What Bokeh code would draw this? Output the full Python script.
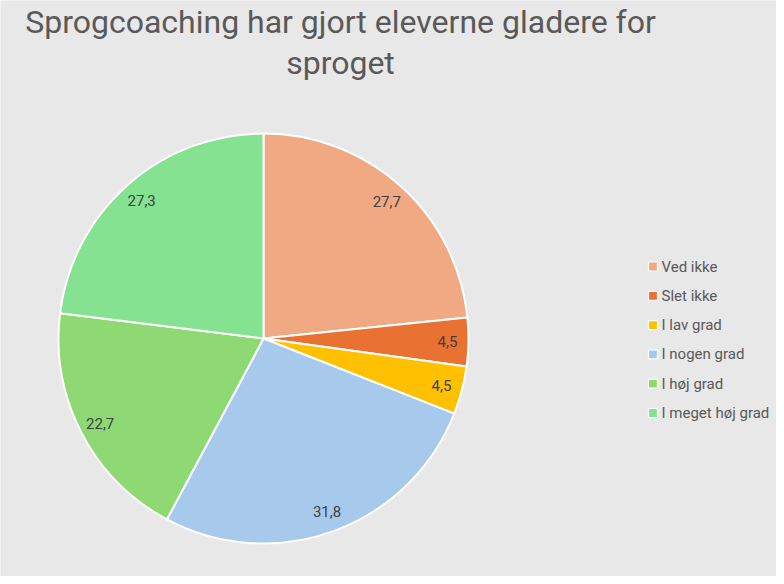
import math
from bokeh.plotting import figure
from bokeh.models import ColumnDataSource, Range1d
from bokeh.core.properties import value
from bokeh.embed import file_html
from bokeh.resources import INLINE

title_lines = ["Sprogcoaching har gjort eleverne gladere for", "sproget"]
categories = ["Ved ikke", "Slet ikke", "I lav grad", "I nogen grad", "I høj grad", "I meget høj grad"]
values = [27.7, 4.5, 4.5, 31.8, 22.7, 27.3]
colors = ["#F1A983", "#E97132", "#FFC000", "#A6C9EC", "#8ED973", "#84E291"]

W, H = 776, 576
cx, cy, R = 263, 238, 205
label_r = 184

total = sum(values)
starts, ends, lx, ly, labels = [], [], [], [], []
cum = 0.0
for v in values:
    a0 = math.pi / 2 - 2 * math.pi * cum / total
    cum += v
    a1 = math.pi / 2 - 2 * math.pi * cum / total
    starts.append(a0)
    ends.append(a1)
    am = (a0 + a1) / 2
    lx.append(cx + label_r * math.cos(am))
    ly.append(cy + label_r * math.sin(am))
    labels.append(f"{v:.1f}".replace(".", ","))

src = ColumnDataSource(dict(start=starts, end=ends, color=colors, lx=lx, ly=ly,
                            label=labels, cat=categories))

p = figure(width=W, height=H, output_backend="svg", toolbar_location=None,
           x_range=Range1d(0, W), y_range=Range1d(0, H),
           min_border=0, min_border_left=0, min_border_right=0,
           min_border_top=0, min_border_bottom=0)
p.axis.visible = False
p.grid.visible = False
p.outline_line_color = None
p.background_fill_color = "#E8E8E8"
p.border_fill_color = "#E8E8E8"

p.wedge(x=cx, y=cy, radius=R, start_angle="start", end_angle="end", direction="clock",
        fill_color="color", line_color="white", line_width=2, source=src)

p.text(x="lx", y="ly", text="label", source=src, text_font=value("Roboto"),
       text_font_size="15px", text_color="#404040", text_align="center",
       text_baseline="middle")

# Title
p.text(x=[340, 340], y=[555, 514], text=title_lines, text_font=value("Roboto"),
       text_font_size="32px", text_color="#595959", text_align="center",
       text_baseline="middle")

# Legend
leg_y = [H - 266 - i * 29.3 for i in range(len(categories))]
leg_src = ColumnDataSource(dict(x=[652.5] * len(categories), tx=[661] * len(categories),
                                y=leg_y, color=colors, cat=categories))
p.scatter(x="x", y="y", marker="square", size=9, fill_color="color",
          line_color="white", line_width=1.2, source=leg_src)
p.text(x="tx", y="y", text="cat", source=leg_src, text_font=value("Roboto"),
       text_font_size="15px", text_color="#595959", text_align="left",
       text_baseline="middle")

open("out.html", "w").write(file_html(p, INLINE))
